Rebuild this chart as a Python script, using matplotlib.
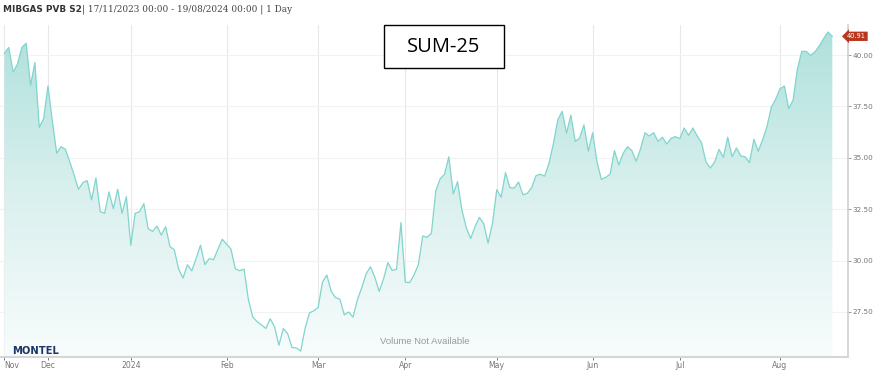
import numpy as np
import pandas as pd
import matplotlib
matplotlib.use("Agg")
import matplotlib.pyplot as plt
import matplotlib.transforms as mtransforms
from matplotlib.colors import LinearSegmentedColormap
from matplotlib.patches import Rectangle

# trading days (MIBGAS PVB, daily settlement)
start_date = "2023-11-17"
end_date = "2024-08-19"
holidays = ["2023-12-25", "2023-12-26", "2024-01-01", "2024-03-29",
            "2024-04-01", "2024-05-01"]

# SUM-25 price (EUR/MWh), one value per trading day
prices = [
    40.08, 40.37, 39.17, 39.56, 40.37, 40.57, 38.53, 39.63, 36.48, 36.90,
    38.49, 36.80, 35.22, 35.54, 35.41, 34.81, 34.16, 33.47, 33.79, 33.89,
    32.95, 34.02, 32.38, 32.30, 33.34, 32.52, 33.47, 32.30, 33.11, 30.74,
    32.30, 32.38, 32.77, 31.55, 31.42, 31.68, 31.24, 31.65, 30.68, 30.52,
    29.58, 29.15, 29.80, 29.50, 30.10, 30.75, 29.80, 30.10, 30.04, 30.55,
    31.04, 30.80, 30.55, 29.60, 29.51, 29.58, 28.10, 27.25, 27.03, 26.87,
    26.70, 27.17, 26.78, 25.88, 26.69, 26.45, 25.77, 25.75, 25.60, 26.70,
    27.45, 27.56, 27.72, 28.96, 29.30, 28.50, 28.20, 28.12, 27.36, 27.50,
    27.25, 28.08, 28.68, 29.35, 29.70, 29.20, 28.50, 29.10, 29.90, 29.52,
    29.58, 31.85, 28.95, 28.93, 29.30, 29.80, 31.20, 31.13, 31.33, 33.40,
    33.98, 34.20, 35.05, 33.24, 33.84, 32.46, 31.60, 31.07, 31.65, 32.10,
    31.80, 30.85, 31.80, 33.45, 33.08, 34.28, 33.55, 33.53, 33.82, 33.20,
    33.27, 33.55, 34.13, 34.20, 34.11, 34.75, 35.70, 36.85, 37.26, 36.20,
    37.07, 35.80, 35.96, 36.60, 35.32, 36.22, 34.80, 33.95, 34.05, 34.20,
    35.35, 34.65, 35.22, 35.54, 35.35, 34.83, 35.44, 36.22, 36.06, 36.22,
    35.80, 36.00, 35.67, 35.95, 36.03, 35.93, 36.45, 36.09, 36.45, 36.06,
    35.73, 34.80, 34.50, 34.80, 35.41, 35.02, 36.00, 35.05, 35.48, 35.09,
    35.05, 34.76, 35.90, 35.32, 35.87, 36.51, 37.46, 37.85, 38.36, 38.49,
    37.39, 37.81, 39.33, 40.18, 40.18, 39.98, 40.15, 40.44, 40.79, 41.12,
    40.91,
]

yticks = [27.5, 30.0, 32.5, 35.0, 37.5, 40.0]

dates = pd.bdate_range(start_date, end_date, freq="C", holidays=holidays)
x = np.arange(len(prices))
y = np.array(prices)

# month ticks: first trading day of each month on an ordinal axis
months = pd.Series(dates.month)
tick_pos = [0] + list(np.where(months.diff().fillna(0) != 0)[0])
tick_lab = []
for p in tick_pos:
    d = dates[p]
    tick_lab.append(str(d.year) if d.month == 1 else d.strftime("%b"))

W, H = 874, 372
fig = plt.figure(figsize=(W / 100, H / 100), dpi=100)
ax = fig.add_axes([0, 15 / H, 848 / W, 332 / H])

ax.set_xlim(-1.01, 193.6)
ax.set_ylim(25.31, 41.46)

# gradient fill under the line
cmap = LinearSegmentedColormap.from_list("fill", ["#f8fcfc", "#d9f0ee", "#aee0db"])
grad = np.linspace(0, 1, 256).reshape(-1, 1)
img = ax.imshow(grad, aspect="auto", cmap=cmap, origin="lower",
                extent=[-1.01, 193.6, 25.31, 41.46], zorder=1)
poly = ax.fill_between(x, y, 25.31, color="none", lw=0)
img.set_clip_path(poly.get_paths()[0], transform=ax.transData)
ax.plot(x, y, color="#80d5cd", lw=0.9, zorder=3)

# grid
ax.set_xticks(tick_pos)
ax.set_xticklabels(tick_lab)
ax.set_yticks(yticks)
ax.set_yticklabels([f"{v:.2f}" for v in yticks])
ax.grid(axis="x", color="#e8e8e8", lw=0.8, zorder=0)
ax.grid(axis="y", color="#f2f2f2", lw=0.8, zorder=0)
ax.set_axisbelow(True)

ax.yaxis.tick_right()
ax.tick_params(axis="y", labelsize=5.2, colors="#888888", length=2, width=0.6, pad=1.5)
ax.tick_params(axis="x", labelsize=5.6, colors="#666666", length=2, width=0.6,
               pad=1)
for lab in ax.get_xticklabels() + ax.get_yticklabels():
    lab.set_color("#777777")
# first label sits at the left edge, keep it inside the figure
ax.get_xticklabels()[0].set_horizontalalignment("left")

for s in ["left", "top"]:
    ax.spines[s].set_visible(False)
ax.spines["right"].set_color("#cfcfcf")
ax.spines["right"].set_linewidth(1.2)
ax.spines["bottom"].set_color("#d6d6d6")
ax.spines["bottom"].set_linewidth(1.5)

# last price marker
trans = mtransforms.blended_transform_factory(fig.transFigure, ax.transData)
ax.text(866 / W, y[-1], f"{y[-1]:.2f}", transform=trans, ha="right", va="center",
        fontsize=4.8, color="white", zorder=5, clip_on=False,
        bbox=dict(boxstyle="larrow,pad=0.25", fc="#b8371f", ec="none"))

# header
fig.text(3 / W, 1 - 9 / H, "MIBGAS PVB S2", fontsize=6.4, fontweight="bold",
         color="#333333", va="center", ha="left", family="DejaVu Sans")
fig.text(82 / W, 1 - 9 / H, "| 17/11/2023 00:00 - 19/08/2024 00:00 | 1 Day",
         fontsize=6.4, color="#444444", va="center", ha="left",
         family="DejaVu Serif")

# contract box
fig.patches.append(Rectangle((384 / W, 1 - 68 / H), 120 / W, 43 / H,
                             transform=fig.transFigure, fc="white", ec="black",
                             lw=1.0, zorder=10))
fig.text(444 / W, 1 - 47 / H, "SUM-25", fontsize=14.5, color="black",
         ha="center", va="center", family="Open Sans", zorder=11)

# footer texts
fig.text(425 / W, 1 - 342 / H, "Volume Not Available", fontsize=6.8,
         color="#9a9a9a", ha="center", va="center", family="Liberation Sans")
fig.text(12 / W, 1 - 351 / H, "MONTEL", fontsize=7.2, fontweight="heavy",
         color="#1d3666", ha="left", va="center", family="DejaVu Sans")

fig.savefig("out.png", dpi=100)
